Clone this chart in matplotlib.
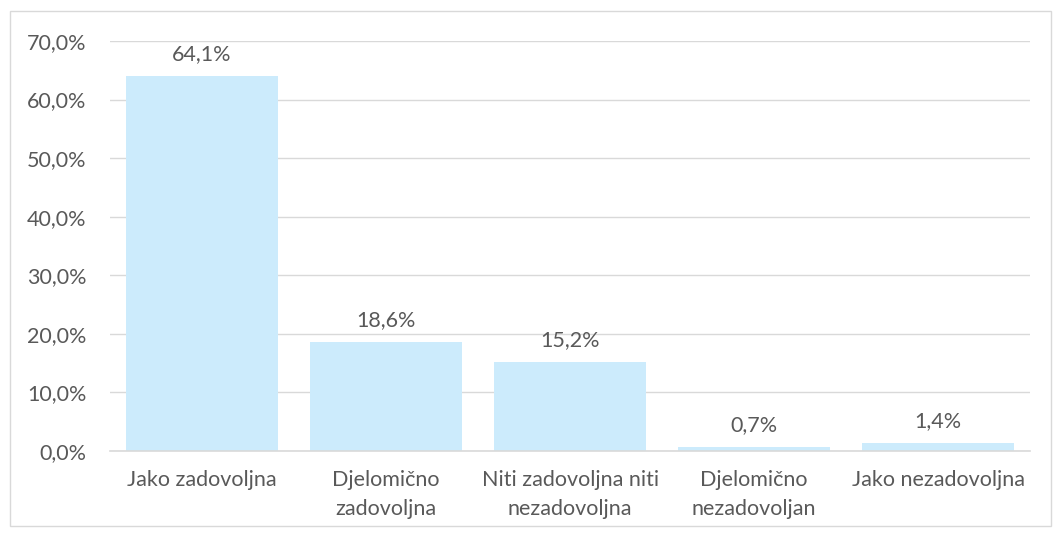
import numpy as np
import matplotlib.pyplot as plt
from matplotlib.patches import Rectangle

plt.rcParams['font.family'] = ['Lato', 'DejaVu Sans']

categories = ["Jako zadovoljna", "Djelomično\nzadovoljna", "Niti zadovoljna niti\nnezadovoljna",
              "Djelomično\nnezadovoljan", "Jako nezadovoljna"]
values = [64.1, 18.6, 15.2, 0.7, 1.4]
yticks = [0, 10, 20, 30, 40, 50, 60, 70]

txt = '#595959'
fs = 15.5
fig = plt.figure(figsize=(10.62, 5.36), dpi=100)
ax = fig.add_axes([0.1036, 0.1586, 0.8664, 0.7649])

x = np.arange(len(categories))
ax.bar(x, values, width=0.83, color='#CCEBFC', zorder=2)
for xi, v in zip(x, values):
    ax.text(xi, v + 2.0, ("%.1f%%" % v).replace('.', ','), ha='center', va='bottom',
            fontsize=fs, color=txt)

ax.set_xlim(-0.5, len(categories) - 0.5)
ax.set_ylim(0, 70)
ax.set_yticks(yticks)
ax.set_yticklabels([("%.1f%%" % t).replace('.', ',') for t in yticks], fontsize=fs, color=txt)
ax.set_xticks(x)
ax.set_xticklabels(categories, fontsize=fs, color=txt, linespacing=1.55, va='top')
ax.tick_params(axis='both', length=0)
ax.tick_params(axis='x', pad=14)
ax.tick_params(axis='y', pad=17)
ax.grid(axis='y', color='#D9D9D9', linewidth=1, zorder=0)
for s in ['top', 'right', 'left']:
    ax.spines[s].set_visible(False)
ax.spines['bottom'].set_color('#D9D9D9')
ax.spines['bottom'].set_linewidth(1.2)

fig.patches.append(Rectangle((10 / 1062, 10 / 536), 1041 / 1062, 515 / 536, transform=fig.transFigure,
                             fill=False, edgecolor='#D9D9D9', linewidth=1))

fig.savefig('out.png', dpi=100)
